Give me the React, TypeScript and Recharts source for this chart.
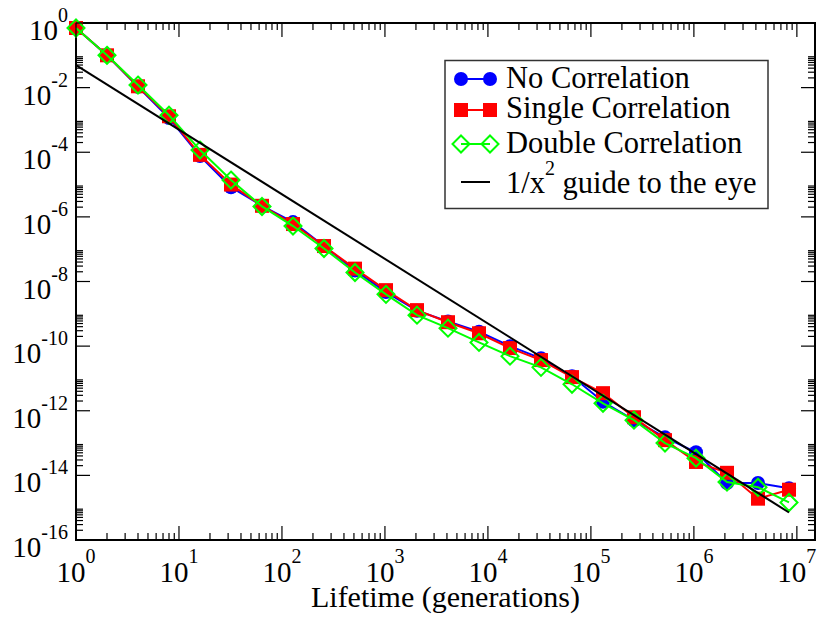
import React from "react";
import { ScatterChart, Scatter, XAxis, YAxis, ReferenceArea } from "recharts";

// lifetime bins (generations), powers of two
const generations = [
  1, 2, 4, 8, 16, 32, 64, 128, 256, 512, 1024, 2048, 4096, 8192, 16384, 32768,
  65536, 131072, 262144, 524288, 1048576, 2097152, 4194304, 8388608,
];

const noCorrelation = [
  0.7, 0.1, 1.07e-2, 1.15e-3, 7.6e-5, 8.3e-6, 2.2e-6, 6.9e-7, 1.25e-7, 2.2e-8,
  4.7e-9, 1.25e-9, 5.8e-10, 2.8e-10, 1.0e-10, 4.2e-11, 1.17e-11, 1.9e-12,
  5.1e-13, 1.5e-13, 5.2e-14, 5.8e-15, 5.8e-15, 4.0e-15,
];

const singleCorrelation = [
  0.7, 0.1, 1.1e-2, 1.3e-3, 8.3e-5, 1.0e-5, 2.2e-6, 6.0e-7, 1.25e-7, 2.5e-8,
  5.4e-9, 1.3e-9, 5.5e-10, 2.5e-10, 8.7e-11, 3.7e-11, 1.1e-11, 3.5e-12,
  6.3e-13, 1.23e-13, 2.6e-14, 1.2e-14, 1.9e-15, 3.6e-15,
];

const doubleCorrelation = [
  0.7, 0.1, 1.2e-2, 1.4e-3, 1.17e-4, 1.38e-5, 2.1e-6, 5.2e-7, 1.05e-7, 1.9e-8,
  4.0e-9, 9.1e-10, 3.6e-10, 1.3e-10, 4.9e-11, 2.2e-11, 6.6e-12, 1.7e-12,
  5.1e-13, 1.0e-13, 3.4e-14, 6.2e-15, 4.3e-15, 1.45e-15,
];

// 1/x^2 guide, end points
const guideX = [1, 8388608];
const guideY = [5e-2, 7.1e-16];

const xMajorTicks = [1, 1e1, 1e2, 1e3, 1e4, 1e5, 1e6, 1e7];
const yMajorTicks = [1e-16, 1e-14, 1e-12, 1e-10, 1e-8, 1e-6, 1e-4, 1e-2, 1];
const minorSteps = [2, 3, 4, 5, 6, 7, 8, 9];

const X_MAX = 1.5e7;
const PLOT_TOP = 23;
const PLOT_RIGHT = 815;
const FONT = "'Liberation Serif', 'Times New Roman', serif";

const xTicks = [
  ...xMajorTicks,
  ...xMajorTicks.slice(0, -1).flatMap((m) => minorSteps.map((s) => m * s)),
];
const yTicks = [
  ...yMajorTicks,
  ...yMajorTicks.slice(0, -1).flatMap((m) => minorSteps.map((s) => m * s)),
];

const toPoints = (xs: number[], ys: number[]) =>
  xs.map((x, i) => ({ x, y: ys[i] }));

const series = [
  { name: "No Correlation", color: "#0000ff", kind: "circle", values: noCorrelation },
  { name: "Single Correlation", color: "#ff0000", kind: "square", values: singleCorrelation },
  { name: "Double Correlation", color: "#00ff00", kind: "diamond", values: doubleCorrelation },
];

function Marker({ kind, cx, cy, color }: any) {
  if (kind === "circle") return <circle cx={cx} cy={cy} r={7} fill={color} />;
  if (kind === "square")
    return <rect x={cx - 7} y={cy - 7} width={14} height={14} fill={color} />;
  if (kind === "diamond")
    return (
      <polygon
        points={`${cx},${cy - 8.5} ${cx + 8.5},${cy} ${cx},${cy + 8.5} ${cx - 8.5},${cy}`}
        fill="none"
        stroke={color}
        strokeWidth={2}
      />
    );
  return <g />;
}

const exponentOf = (v: number) => {
  const e = Math.log10(v);
  const r = Math.round(e);
  return { r, major: Math.abs(e - r) < 1e-6 };
};

const XTick = (props: any) => {
  const { x, y, payload } = props;
  const { r, major } = exponentOf(payload.value);
  const len = major ? 14 : 7;
  return (
    <g>
      <line x1={x} x2={x} y1={y} y2={y - len} stroke="#000" strokeWidth={1.2} />
      <line x1={x} x2={x} y1={PLOT_TOP} y2={PLOT_TOP + len} stroke="#000" strokeWidth={1.2} />
      {major && (
        <text x={x} y={y + 42} textAnchor="middle" fontFamily={FONT} fontSize={29} fill="#000">
          10
          <tspan dy={-19} fontSize={20}>
            {r}
          </tspan>
        </text>
      )}
    </g>
  );
};

const YTick = (props: any) => {
  const { x, y, payload } = props;
  const { r, major } = exponentOf(payload.value);
  const len = major ? 14 : 7;
  return (
    <g>
      <line x1={x} x2={x + len} y1={y} y2={y} stroke="#000" strokeWidth={1.2} />
      <line x1={PLOT_RIGHT} x2={PLOT_RIGHT - len} y1={y} y2={y} stroke="#000" strokeWidth={1.2} />
      {major && (
        <text x={x - 8} y={y + 17} textAnchor="end" fontFamily={FONT} fontSize={29} fill="#000">
          10
          <tspan dy={-18} fontSize={20}>
            {r}
          </tspan>
        </text>
      )}
    </g>
  );
};

function LegendBox() {
  const rows = [79, 110, 144];
  const baselines = [88, 118, 153];
  return (
    <svg
      width={817}
      height={620}
      style={{ position: "absolute", left: 0, top: 0, pointerEvents: "none" }}
    >
      <rect x={445} y={60.5} width={323} height={148} fill="#fff" stroke="#333" strokeWidth={1.5} />
      {series.map((s, i) => (
        <g key={s.name}>
          <line x1={461} x2={490} y1={rows[i]} y2={rows[i]} stroke={s.color} strokeWidth={2} />
          <Marker kind={s.kind} cx={461} cy={rows[i]} color={s.color} />
          <Marker kind={s.kind} cx={490} cy={rows[i]} color={s.color} />
          <text x={506} y={baselines[i]} fontFamily={FONT} fontSize={30.5} fill="#000">
            {s.name}
          </text>
        </g>
      ))}
      <line x1={461} x2={490} y1={182} y2={182} stroke="#000" strokeWidth={2} />
      <text x={506} y={193} fontFamily={FONT} fontSize={30.5} fill="#000">
        1/x
        <tspan dy={-18} fontSize={20}>
          2
        </tspan>
        <tspan dy={18}> guide to the eye</tspan>
      </text>
    </svg>
  );
}

export default function App() {
  return (
    <div style={{ position: "relative", width: 817, height: 620, background: "#fff" }}>
      <style>{`body{margin:0}`}</style>
      <ScatterChart
        width={817}
        height={620}
        margin={{ top: PLOT_TOP, right: 817 - PLOT_RIGHT, left: 0, bottom: 0 }}
      >
        <XAxis
          dataKey="x"
          type="number"
          scale="log"
          domain={[1, X_MAX]}
          ticks={xTicks}
          interval={0}
          height={80}
          tickSize={0}
          tickMargin={0}
          axisLine={false}
          tickLine={false}
          tick={<XTick />}
          label={{
            value: "Lifetime (generations)",
            position: "insideBottom",
            offset: 13,
            style: { fontFamily: FONT, fontSize: 30, fill: "#000" },
          }}
        />
        <YAxis
          dataKey="y"
          type="number"
          scale="log"
          domain={[1e-16, 1]}
          ticks={yTicks}
          interval={0}
          width={76}
          tickSize={0}
          tickMargin={0}
          axisLine={false}
          tickLine={false}
          tick={<YTick />}
        />
        <ReferenceArea
          x1={1}
          x2={X_MAX}
          y1={1e-16}
          y2={1}
          fill="none"
          stroke="#000"
          strokeWidth={2}
          fillOpacity={0}
        />
        {series.map((s) => (
          <Scatter
            key={s.name}
            name={s.name}
            data={toPoints(generations, s.values)}
            fill={s.color}
            line={{ stroke: s.color, strokeWidth: 2 }}
            shape={(p: any) => <Marker kind={s.kind} cx={p.cx} cy={p.cy} color={s.color} />}
            isAnimationActive={false}
          />
        ))}
        <Scatter
          name="1/x^2 guide to the eye"
          data={toPoints(guideX, guideY)}
          fill="#000"
          line={{ stroke: "#000", strokeWidth: 2 }}
          shape={() => <g />}
          isAnimationActive={false}
        />
      </ScatterChart>
      <LegendBox />
    </div>
  );
}
